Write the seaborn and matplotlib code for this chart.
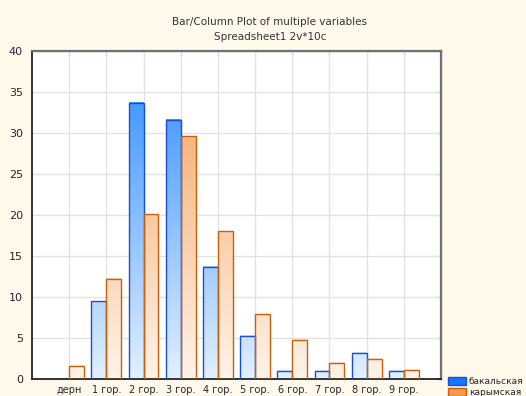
import numpy as np
import pandas as pd
import matplotlib
matplotlib.use("Agg")
import matplotlib.pyplot as plt
import seaborn as sns
from matplotlib.colors import LinearSegmentedColormap
from matplotlib.patches import Patch

# data
categories = ["дерн", "1 гор.", "2 гор.", "3 гор.", "4 гор.",
              "5 гор.", "6 гор.", "7 гор.", "8 гор.", "9 гор."]
bakal = [0.0, 9.5, 33.7, 31.6, 13.7, 5.3, 1.0, 1.0, 3.2, 1.0]
karym = [1.6, 12.2, 20.1, 29.6, 18.0, 7.9, 4.8, 2.0, 2.5, 1.1]
series = ["бакальская", "карымская"]

df = pd.DataFrame({
    "cat": categories * 2,
    "val": bakal + karym,
    "var": [series[0]] * len(categories) + [series[1]] * len(categories),
})

bg = "#fff9ec"
sns.set_style("white")
plt.rcParams["font.family"] = ["DejaVu Sans"]

fig = plt.figure(figsize=(5.26, 3.96), dpi=100, facecolor=bg)
ax = fig.add_axes([32 / 526, 17 / 396, 409 / 526, 328 / 396])
ax.set_facecolor("white")

sns.barplot(data=df, x="cat", y="val", hue="var", hue_order=series,
            order=categories, width=0.8, ax=ax, legend=False)

cmaps = {
    0: LinearSegmentedColormap.from_list("b", ["#e2f0ff", "#2a8aff"]),
    1: LinearSegmentedColormap.from_list("o", ["#fef3e8", "#f4a05c"]),
}
edges = {0: "#1a4fd0", 1: "#c4600e"}
ymax = 40

n = len(categories)
for i, bar in enumerate(ax.patches[: 2 * n]):
    s = i // n
    x0 = bar.get_x()
    w = bar.get_width()
    h = bar.get_height()
    bar.set_facecolor("none")
    bar.set_edgecolor(edges[s])
    bar.set_linewidth(1.0)
    bar.set_zorder(3)
    if h <= 0:
        bar.set_visible(False)
        continue
    grad = np.linspace(h / ymax, 0, 200).reshape(-1, 1)
    ax.imshow(grad, cmap=cmaps[s], vmin=0, vmax=1, aspect="auto",
              extent=(x0, x0 + w, 0, h), zorder=2, interpolation="bilinear")

ax.set_xlim(-1, 10)
ax.set_ylim(0, ymax)
ax.set_yticks(range(0, 41, 5))
ax.set_xticks(range(n))
ax.set_xticklabels(categories, fontsize=7)
ax.tick_params(axis="y", labelsize=8, length=3, direction="out", width=0.8)
ax.tick_params(axis="x", length=0, pad=4)
ax.set_xlabel("")
ax.set_ylabel("")

ax.set_axisbelow(True)
ax.grid(True, color="#e2e2e2", linewidth=1.0)

for side in ["left", "bottom"]:
    ax.spines[side].set_color("#222222")
    ax.spines[side].set_linewidth(1.3)
for side in ["top", "right"]:
    ax.spines[side].set_visible(True)
    ax.spines[side].set_color("#707070")
    ax.spines[side].set_linewidth(1.6)

# inner ticks on top and right
ax2 = ax.secondary_xaxis("top")
ax2.set_xticks(range(n))
ax2.set_xticklabels([])
ax2.tick_params(direction="in", length=3, color="#333333")
ax3 = ax.secondary_yaxis("right")
ax3.set_yticks(range(0, 41, 5))
ax3.set_yticklabels([])
ax3.tick_params(direction="in", length=3, color="#333333")

fig.text(270 / 526, 1 - 22 / 396, "Bar/Column Plot of multiple variables",
         ha="center", va="center", fontsize=7.5, color="#333333")
fig.text(270 / 526, 1 - 37 / 396, "Spreadsheet1 2v*10c",
         ha="center", va="center", fontsize=7.5, color="#333333")

handles = [Patch(facecolor="#1675ff", edgecolor="#1a4fd0"),
           Patch(facecolor="#f39a4e", edgecolor="#c4600e")]
fig.legend(handles, series, loc="lower left",
           bbox_to_anchor=(444 / 526, -0.012), frameon=False, fontsize=6.5,
           handlelength=2.0, handleheight=1.0, handletextpad=0.35,
           labelspacing=0.2, borderaxespad=0.0)

fig.savefig("out.png", dpi=100, facecolor=bg)
